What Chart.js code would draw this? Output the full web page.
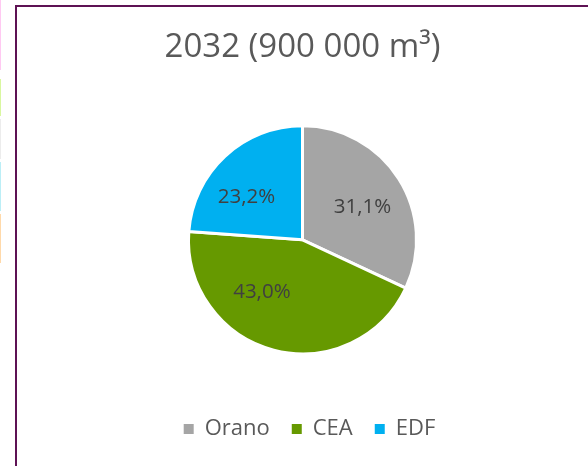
<!DOCTYPE html>
<html><head><meta charset="utf-8">
<script src="https://cdn.jsdelivr.net/npm/chart.js@4.4.1/dist/chart.umd.min.js"></script>
<style>
html,body{margin:0;padding:0;background:#fff;width:588px;height:466px;overflow:hidden}
#frame{position:absolute;left:15px;top:5px;width:573px;height:461px;border-left:2px solid #5e1254;border-top:2px solid #5e1254;box-sizing:border-box}
#wrap{position:absolute;left:17px;top:7px;width:571px;height:459px}
.strip{position:absolute;left:0;width:1px}
</style></head><body>
<div class="strip" style="top:0;height:70px;background:#ffc9f2"></div>
<div class="strip" style="top:79px;height:37px;background:#d9f7a0"></div>
<div class="strip" style="top:119px;height:40px;background:#ececec"></div>
<div class="strip" style="top:162px;height:49px;background:#bbeef6"></div>
<div class="strip" style="top:214px;height:49px;background:#ffd9aa"></div>
<div id="frame"></div>
<div id="wrap"><canvas id="c"></canvas></div>
<script>
const categories = ['Orano', 'CEA', 'EDF'];
const shares = [31.1, 43.0, 23.2];
const sliceColors = ['#a5a5a5', '#669900', '#00b0f0'];
const titleText = '2032 (900 000 m³)';
const labelText = shares.map(v => v.toFixed(1).replace('.', ',') + '%');

const sliceLabels = {
  id: 'sliceLabels',
  afterLayout(chart, args, opts) {
    if (chart.legend) {
      chart.legend.left += opts.legendShift;
      chart.legend.right += opts.legendShift;
    }
  },
  afterDatasetsDraw(chart, args, opts) {
    const ctx = chart.ctx;
    const meta = chart.getDatasetMeta(0);
    meta.data.forEach((arc, i) => {
      const p = arc.getProps(['x', 'y', 'startAngle', 'endAngle', 'outerRadius'], true);
      const a = (p.startAngle + p.endAngle) / 2 + opts.angleShift[i] * Math.PI / 180;
      const r = p.outerRadius * opts.radial[i];
      ctx.save();
      ctx.font = opts.font;
      ctx.fillStyle = opts.color;
      ctx.textAlign = 'center';
      ctx.textBaseline = 'middle';
      ctx.fillText(labelText[i], p.x + Math.cos(a) * r, p.y + Math.sin(a) * r);
      ctx.restore();
    });
  }
};

new Chart(document.getElementById('c'), {
  type: 'pie',
  data: {
    labels: categories,
    datasets: [{
      data: shares,
      backgroundColor: sliceColors,
      borderColor: '#ffffff',
      borderWidth: 3,
      radius: 114
    }]
  },
  plugins: [sliceLabels],
  options: {
    responsive: true,
    maintainAspectRatio: false,
    animation: false,
    layout: { padding: { top: 0, bottom: 16, left: 0, right: 0 } },
    plugins: {
      tooltip: { enabled: false },
      title: {
        display: true,
        text: titleText,
        color: '#595959',
        font: { family: 'Open Sans', size: 33, weight: 'normal' },
        padding: { top: 21, bottom: 16 }
      },
      legend: {
        position: 'bottom',
        labels: {
          color: '#595959',
          font: { family: 'Open Sans', size: 22 },
          boxWidth: 10,
          boxHeight: 10,
          padding: 22,
          generateLabels(chart) {
            const items = Chart.controllers.pie.overrides.plugins.legend.labels.generateLabels(chart);
            items.forEach(it => { it.lineWidth = 0; it.strokeStyle = 'rgba(0,0,0,0)'; });
            return items;
          }
        }
      },
      sliceLabels: {
        font: '20.5px "Open Sans"',
        color: '#404040',
        angleShift: [3.7, 23.3, -9.6],
        radial: [0.6, 0.58, 0.62],
        legendShift: 7
      }
    }
  }
});
</script>
</body></html>
